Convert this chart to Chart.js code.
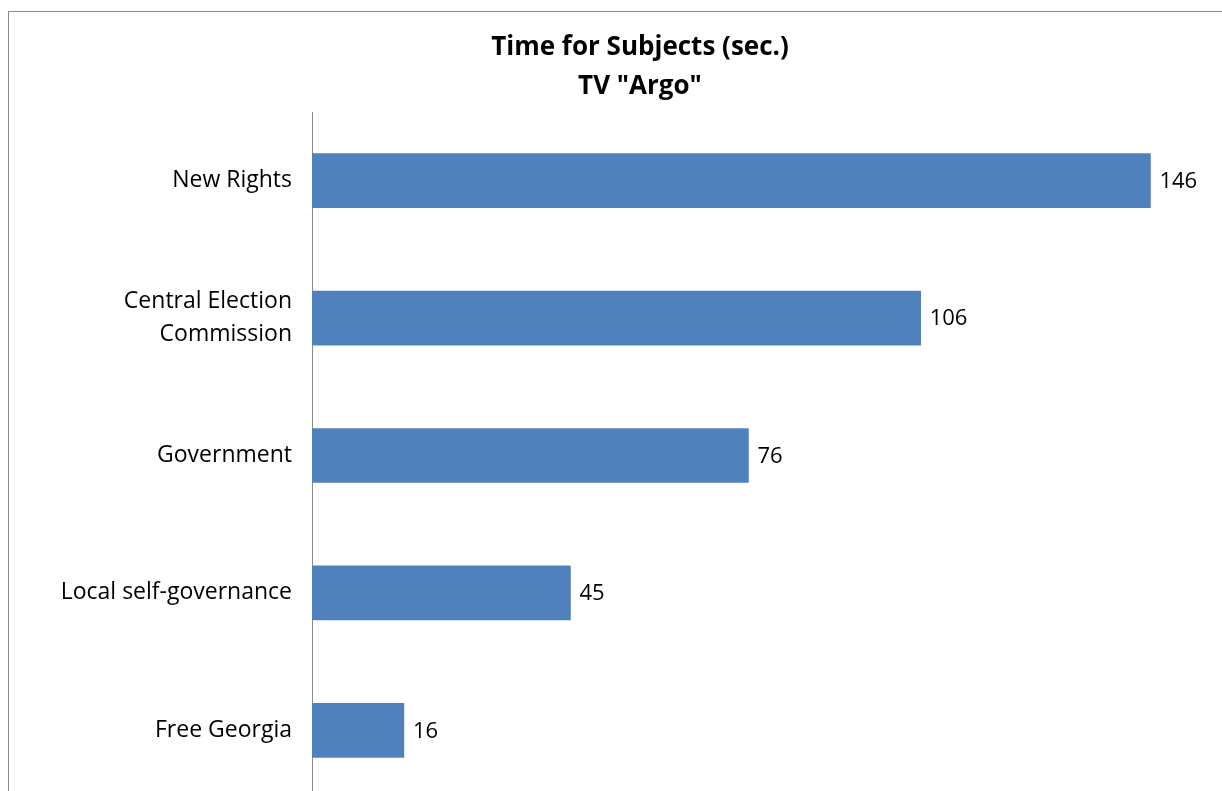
<!DOCTYPE html>
<html>
<head>
<meta charset="utf-8">
<script src="https://cdn.jsdelivr.net/npm/chart.js@4/dist/chart.umd.min.js"></script>
<style>
  html, body { margin: 0; padding: 0; overflow: hidden; background: #fff; }
  #box {
    position: absolute; left: 8px; top: 11px;
    width: 1264px; height: 840px;
    border: 1px solid #8c8c8c; box-sizing: border-box;
  }
</style>
</head>
<body>
<div id="box"><canvas id="chart"></canvas></div>
<script>
const categories = ["New Rights", ["Central Election", "Commission"], "Government", "Local self-governance", "Free Georgia"];
const seconds = [146, 106, 76, 45, 16];
const titleLines = ["Time for Subjects (sec.)", "TV \"Argo\""];

const FONT = "'Open Sans', Lato, sans-serif";

// valeurs au bout des barres
const barValues = {
  id: "barValues",
  afterDatasetsDraw(chart) {
    const ctx = chart.ctx;
    const meta = chart.getDatasetMeta(0);
    ctx.save();
    ctx.font = "22px " + FONT;
    ctx.fillStyle = "#000";
    ctx.textAlign = "left";
    ctx.textBaseline = "middle";
    meta.data.forEach((bar, i) => {
      ctx.fillText(String(chart.data.datasets[0].data[i]), bar.x + 9, bar.y + 1);
    });
    ctx.restore();
  }
};

new Chart(document.getElementById("chart"), {
  type: "bar",
  data: {
    labels: categories,
    datasets: [{
      data: seconds,
      backgroundColor: "#4f81bd",
      borderWidth: 0,
      barThickness: 54
    }]
  },
  options: {
    indexAxis: "y",
    responsive: true,
    maintainAspectRatio: false,
    animation: false,
    layout: { padding: { left: 0, right: 0, top: 0, bottom: 51 } },
    plugins: {
      legend: { display: false },
      tooltip: { enabled: false },
      title: {
        display: true,
        text: titleLines,
        color: "#000",
        font: { family: FONT, size: 26, weight: "bold", lineHeight: 1.5 },
        padding: { top: 16, bottom: 6 }
      }
    },
    scales: {
      x: {
        display: false,
        min: 0,
        max: 167
      },
      y: {
        grid: { display: false, drawTicks: false },
        border: { display: true, color: "#8c8c8c", width: 1 },
        ticks: {
          color: "#000",
          padding: 20,
          font: { family: FONT, size: 23, lineHeight: 1.43 }
        },
        afterFit(scale) { scale.width = 303; }
      }
    }
  },
  plugins: [barValues]
});
</script>
</body>
</html>
